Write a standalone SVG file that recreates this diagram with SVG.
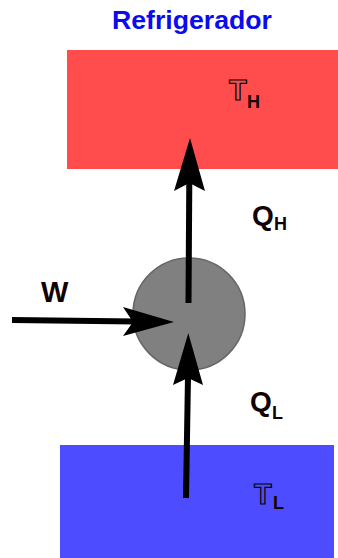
<svg xmlns="http://www.w3.org/2000/svg" width="338" height="558" viewBox="0 0 338 558">
<style>
.t{font-family:"Liberation Sans",Arial,sans-serif;font-weight:bold}
.lbl{fill:#120000}
.shaft{stroke:#000;stroke-width:6;fill:none}
.head{fill:#000}
</style>
<rect width="338" height="558" fill="#fff"/>
<g id="title"><text class="t" x="192" y="29" font-size="26.5" fill="#0b0bef" text-anchor="middle" textLength="160" lengthAdjust="spacingAndGlyphs">Refrigerador</text></g>
<g id="hot">
<rect x="67" y="50" width="271" height="119" fill="#ff4d4d"/>
<text class="t" x="229" y="100" font-size="29" fill="#ff4d4d" stroke="#000" stroke-width="1.2">T</text>
<text class="t lbl" x="247" y="108" font-size="18">H</text>
</g>
<g id="cold">
<rect x="60" y="445" width="274" height="113" fill="#4d4dff"/>
<text class="t" x="254" y="504" font-size="29" fill="#4d4dff" stroke="#000" stroke-width="1.2">T</text>
<text class="t lbl" x="273" y="509" font-size="18">L</text>
</g>
<g id="engine"><circle cx="189" cy="314" r="56" fill="#808080" stroke="#666" stroke-width="1.5"/></g>
<g id="labels">
<text class="t lbl" x="41" y="302" font-size="29">W</text>
<text class="t lbl" x="252" y="225" font-size="28">Q</text>
<text class="t lbl" x="274" y="230" font-size="18">H</text>
<text class="t lbl" x="250" y="411" font-size="28">Q</text>
<text class="t lbl" x="272" y="419" font-size="18">L</text>
</g>
<g id="connectors">
<line class="shaft" x1="188.5" y1="303" x2="189.3" y2="182"/>
<path class="head" d="M190,138 L205,191 L189.3,183 L174,191 Z"/>
<line class="shaft" x1="186" y1="498" x2="188" y2="376"/>
<path class="head" d="M188.3,333 L203,385 L188,378 L173,385 Z"/>
<line class="shaft" x1="12" y1="320" x2="136" y2="321.5"/>
<path class="head" d="M174,322 L123,336 L133,322 L123,307 Z"/>
</g>
</svg>
